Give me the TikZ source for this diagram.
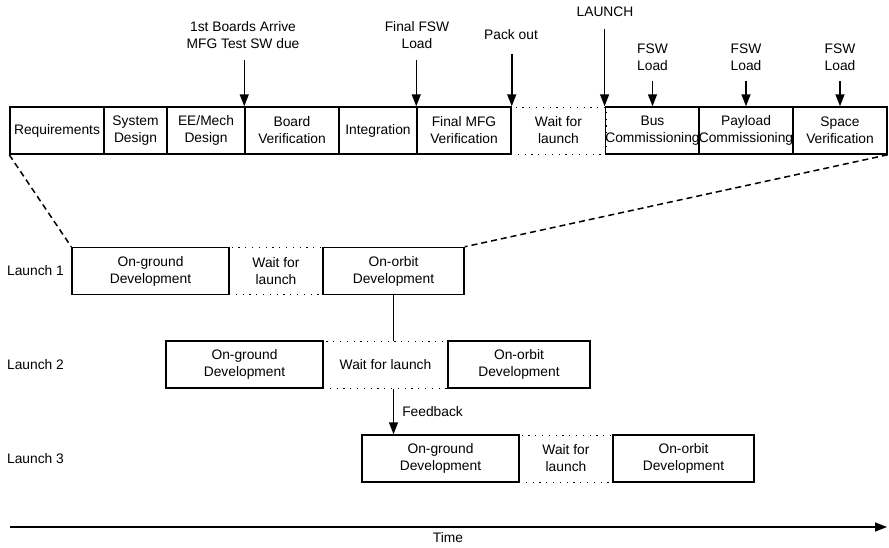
\documentclass[tikz,border=0pt]{standalone}
\usepackage{fontspec}
\setmainfont{Liberation Sans}
\usetikzlibrary{arrows.meta,positioning}

\begin{document}
\begin{tikzpicture}[x=1pt,y=-1pt,>={Triangle[length=12pt,width=9pt]},line width=1.5pt,
    every node/.style={font=\fontsize{13.8}{17}\selectfont,align=center,inner sep=0pt},
    phase/.style={draw,line width=1.5pt,minimum height=47pt},
    wait/.style={draw,line width=1pt,dash pattern=on 1.2pt off 5.6pt,minimum height=47pt},
    zoomline/.style={dash pattern=on 6pt off 4pt}]
  \useasboundingbox (0,0) rectangle (889,547);
  % top bar: one launch in detail
  \node[wait,minimum width=95] (wt) at (558.5,130.5) {Wait for\\launch};
  \foreach \n/\a/\b/\t in {req/10/104/Requirements,sysd/104/167/{System\\Design},
      eem/167/245/{EE/Mech\\Design},bv/245/339/{Board\\Verification},intg/339/417/Integration,
      fmv/417/511/{Final MFG\\Verification},bus/606/699/{Bus\\Commissioning},
      pay/699/793/{Payload\\Commissioning},spv/793/887/{Space\\Verification}}
    \node[phase,minimum width=\b-\a] (\n) at ({(\a+\b)/2},130.5) {\t};
  % milestones
  \node (m1) at (243,35) {1st Boards Arrive\\MFG Test SW due};
  \node (m2) at (417,35) {Final FSW\\Load};
  \node (m3) at (511,35) {Pack out};
  \node (m4) at (605,12) {LAUNCH};
  \draw[->] (bv.north west |- m1.south) ++(0,11) -- (bv.north west);
  \draw[->] (fmv.north west |- m2.south) ++(0,11) -- (fmv.north west);
  \draw[->] (fmv.north east |- m3.south) ++(0,13) -- (fmv.north east);
  \draw[->] (bus.north west |- m4.south) ++(0,11) -- (bus.north west);
  \foreach \n in {bus,pay,spv}{
    \node[above=35pt of \n] (f\n) {FSW\\Load};
    \draw[->] (f\n.south) ++(0,10) -- (\n.north);
  }
  % launches
  \foreach \r/\y/\a/\b/\c/\d/\wt in {1/271/72/229/323/464/{Wait for\\launch},
      2/364.5/166/323/448/590/Wait for launch,3/458.5/362/519/613/754/{Wait for\\launch}}{
    \node[wait,minimum width=\c-\b] (w\r) at ({(\b+\c)/2},\y) {\wt};
    \node[phase,minimum width=\b-\a] (og\r) at ({(\a+\b)/2},\y) {On-ground\\Development};
    \node[phase,minimum width=\d-\c] (oo\r) at ({(\c+\d)/2},\y) {On-orbit\\Development};
    \node (l\r) at (35.5,\y) {Launch \r};
  }
  \draw[zoomline] (req.south west) -- (og1.north west);
  \draw[zoomline] (spv.south east) -- (oo1.north east);
  \draw (oo1.south) -- (oo1.south |- w2.north);
  \draw[->] (oo1.south |- w2.south) -- node[right=8pt]{Feedback} (oo1.south |- og3.north);
  % time axis
  \coordinate (t0) at (10,527);
  \coordinate (t1) at (887,527);
  \draw[->] (t0) -- (t1);
  \node (time) at (448,538) {Time};
\end{tikzpicture}
\end{document}
